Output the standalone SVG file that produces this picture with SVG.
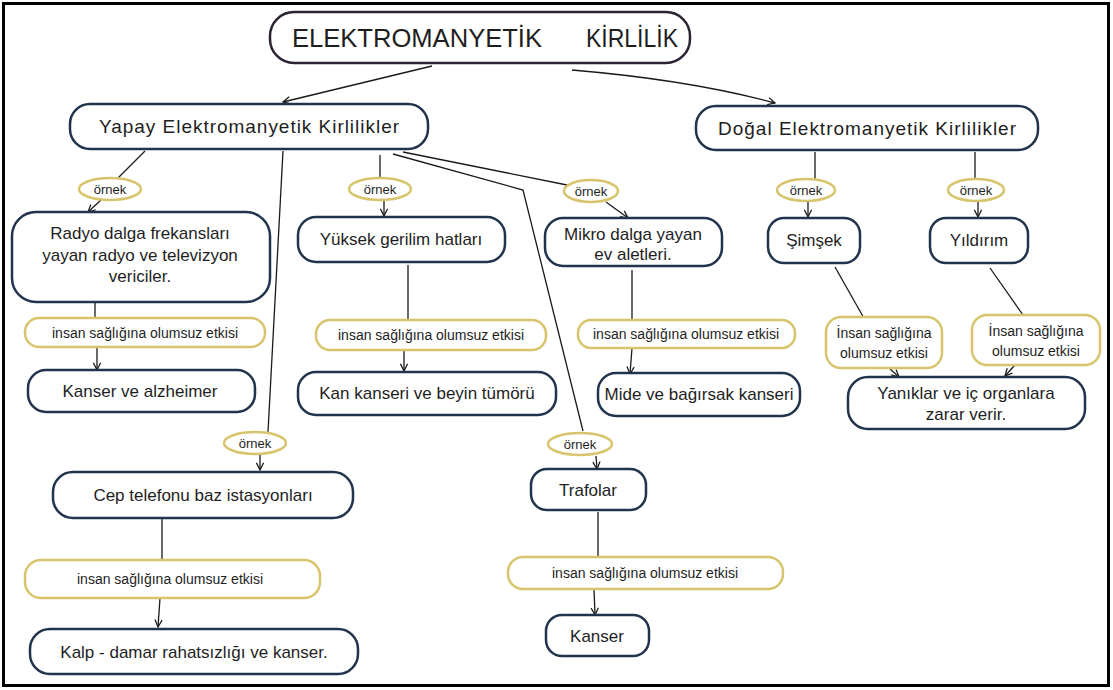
<svg xmlns="http://www.w3.org/2000/svg" width="1113" height="690" viewBox="0 0 1113 690">
<defs>
<style>
.node{fill:#fff;stroke:#22344d;stroke-width:2.5}
.top{fill:#fff;stroke:#2b2233;stroke-width:2.5}
.ex{fill:#fff;stroke:#d8c46c;stroke-width:2.5}
.t{font-family:"Liberation Sans",Arial,sans-serif;fill:#1e1e1e;text-anchor:middle}
.l{font-size:17px}
.s{font-size:14px}
.o{font-size:13px}
.c{fill:none;stroke:#1a1a1a;stroke-width:1.3}
</style>
<marker id="ah" viewBox="0 0 10 10" refX="9" refY="5" markerWidth="9" markerHeight="9" orient="auto" markerUnits="userSpaceOnUse">
<path d="M1,1 L9,5 L1,9" fill="none" stroke="#1a1a1a" stroke-width="1.4"/>
</marker>
</defs>
<rect width="1113" height="690" fill="#fff"/>
<rect x="3.5" y="3.5" width="1105" height="682" fill="none" stroke="#000" stroke-width="3"/>

<g id="connectors">
<path class="c" d="M432,66 L283,102" marker-end="url(#ah)"/>
<path class="c" d="M572,70 Q690,80 775,103" marker-end="url(#ah)"/>
<path class="c" d="M145,151 L118,178"/>
<path class="c" d="M101,200 L88,212" marker-end="url(#ah)"/>
<path class="c" d="M95,302 L95,320"/>
<path class="c" d="M97,347 L97,370" marker-end="url(#ah)"/>
<path class="c" d="M283,151 L268,432"/>
<path class="c" d="M260,454 L260,470" marker-end="url(#ah)"/>
<path class="c" d="M162,518 L162,560"/>
<path class="c" d="M160,598 L158,627" marker-end="url(#ah)"/>
<path class="c" d="M380,155 L380,178"/>
<path class="c" d="M384,200 L384,216" marker-end="url(#ah)"/>
<path class="c" d="M408,265 L408,320"/>
<path class="c" d="M404,350 L404,371" marker-end="url(#ah)"/>
<path class="c" d="M403,152 L567,185"/>
<path class="c" d="M606,202 L628,218" marker-end="url(#ah)"/>
<path class="c" d="M632,270 L632,322"/>
<path class="c" d="M632,348 L630,374" marker-end="url(#ah)"/>
<path class="c" d="M393,154 L523,190 L583,431"/>
<path class="c" d="M596,456 L597,469" marker-end="url(#ah)"/>
<path class="c" d="M598,512 L598,557"/>
<path class="c" d="M594,589 L595,615" marker-end="url(#ah)"/>
<path class="c" d="M815,152 L815,180"/>
<path class="c" d="M808,201 L808,217" marker-end="url(#ah)"/>
<path class="c" d="M975,152 L975,180"/>
<path class="c" d="M978,201 L978,217" marker-end="url(#ah)"/>
<path class="c" d="M835,267 L865,320"/>
<path class="c" d="M990,268 L1023,315"/>
<path class="c" d="M889,368 L899,377" marker-end="url(#ah)"/>
<path class="c" d="M1015,365 L1005,376" marker-end="url(#ah)"/>
</g>

<g id="n-root"><rect class="top" x="270" y="12" width="420" height="51" rx="24"/>
<text class="t" style="font-size:26px" x="417" y="47" textLength="250" lengthAdjust="spacingAndGlyphs">ELEKTROMANYETİK</text>
<text class="t" style="font-size:26px" x="632" y="47" textLength="92" lengthAdjust="spacingAndGlyphs">KİRLİLİK</text></g>

<g id="n-yapay"><rect class="node" x="70" y="104" width="358" height="45" rx="20"/>
<text class="t" style="font-size:19px" x="249" y="133" textLength="300">Yapay  Elektromanyetik  Kirlilikler</text></g>
<g id="n-dogal"><rect class="node" x="696" y="106" width="342" height="44" rx="20"/>
<text class="t" style="font-size:19px" x="867" y="135" textLength="298">Doğal  Elektromanyetik  Kirlilikler</text></g>

<g id="e1"><ellipse class="ex" cx="110" cy="189" rx="31" ry="11"/><text class="t o" x="110" y="194">örnek</text></g>
<g id="e2"><ellipse class="ex" cx="255" cy="443" rx="31" ry="11"/><text class="t o" x="255" y="448">örnek</text></g>
<g id="e3"><ellipse class="ex" cx="380" cy="189" rx="31" ry="11"/><text class="t o" x="380" y="194">örnek</text></g>
<g id="e4"><ellipse class="ex" cx="591" cy="191" rx="27" ry="11"/><text class="t o" x="591" y="196">örnek</text></g>
<g id="e5"><ellipse class="ex" cx="580" cy="444" rx="32" ry="11"/><text class="t o" x="580" y="449">örnek</text></g>
<g id="e6"><ellipse class="ex" cx="806" cy="190" rx="29" ry="11"/><text class="t o" x="806" y="195">örnek</text></g>
<g id="e7"><ellipse class="ex" cx="976" cy="190" rx="28" ry="11"/><text class="t o" x="976" y="195">örnek</text></g>

<g id="n-radyo"><rect class="node" x="12" y="212" width="258" height="90" rx="24"/>
<text class="t l" x="140" y="239">Radyo dalga frekansları</text>
<text class="t l" x="140" y="261">yayan radyo ve televizyon</text>
<text class="t l" x="140" y="282">vericiler.</text></g>
<g id="h1"><rect class="ex" x="25" y="318" width="240" height="29" rx="14"/><text class="t s" x="145" y="338">insan sağlığına olumsuz etkisi</text></g>
<g id="n-kanser1"><rect class="node" x="28" y="370" width="227" height="42" rx="18"/><text class="t l" x="140" y="397">Kanser ve alzheimer</text></g>

<g id="n-cep"><rect class="node" x="53" y="472" width="300" height="46" rx="20"/><text class="t l" x="203" y="501">Cep telefonu baz istasyonları</text></g>
<g id="h2"><rect class="ex" x="25" y="560" width="295" height="38" rx="16"/><text class="t s" x="170" y="584">insan sağlığına olumsuz etkisi</text></g>
<g id="n-kalp"><rect class="node" x="30" y="629" width="328" height="45" rx="20"/><text class="t l" x="194" y="658">Kalp - damar rahatsızlığı ve kanser.</text></g>

<g id="n-yuksek"><rect class="node" x="298" y="217" width="207" height="45" rx="18"/><text class="t l" x="401" y="245">Yüksek gerilim hatları</text></g>
<g id="h3"><rect class="ex" x="316" y="320" width="230" height="30" rx="14"/><text class="t s" x="431" y="340">insan sağlığına olumsuz etkisi</text></g>
<g id="n-kan"><rect class="node" x="298" y="372" width="258" height="43" rx="18"/><text class="t l" x="427" y="399">Kan kanseri ve beyin tümörü</text></g>

<g id="n-mikro"><rect class="node" x="545" y="218" width="177" height="48" rx="18"/>
<text class="t l" x="633" y="240">Mikro dalga yayan</text><text class="t l" x="633" y="260">ev aletleri.</text></g>
<g id="h4"><rect class="ex" x="578" y="320" width="217" height="28" rx="13"/><text class="t s" x="686" y="339">insan sağlığına olumsuz etkisi</text></g>
<g id="n-mide"><rect class="node" x="598" y="373" width="202" height="43" rx="18"/><text class="t l" x="699" y="400">Mide ve bağırsak kanseri</text></g>

<g id="n-trafo"><rect class="node" x="531" y="469" width="115" height="41" rx="16"/><text class="t l" x="588" y="496">Trafolar</text></g>
<g id="h5"><rect class="ex" x="508" y="557" width="275" height="32" rx="15"/><text class="t s" x="645" y="578">insan sağlığına olumsuz etkisi</text></g>
<g id="n-kanser2"><rect class="node" x="546" y="615" width="103" height="41" rx="16"/><text class="t l" x="597" y="642">Kanser</text></g>

<g id="n-simsek"><rect class="node" x="768" y="218" width="92" height="45" rx="16"/><text class="t l" x="814" y="246">Şimşek</text></g>
<g id="n-yildirim"><rect class="node" x="930" y="218" width="98" height="45" rx="16"/><text class="t l" x="979" y="246">Yıldırım</text></g>
<g id="h6"><rect class="ex" x="826" y="317" width="116" height="51" rx="15"/>
<text class="t s" x="884" y="338">İnsan sağlığına</text><text class="t s" x="884" y="358">olumsuz etkisi</text></g>
<g id="h7"><rect class="ex" x="972" y="315" width="128" height="50" rx="15"/>
<text class="t s" x="1036" y="336">İnsan sağlığına</text><text class="t s" x="1036" y="356">olumsuz etkisi</text></g>
<g id="n-yanik"><rect class="node" x="848" y="377" width="237" height="52" rx="20"/>
<text class="t l" x="966" y="399">Yanıklar ve iç organlara</text><text class="t l" x="966" y="420">zarar verir.</text></g>
</svg>
